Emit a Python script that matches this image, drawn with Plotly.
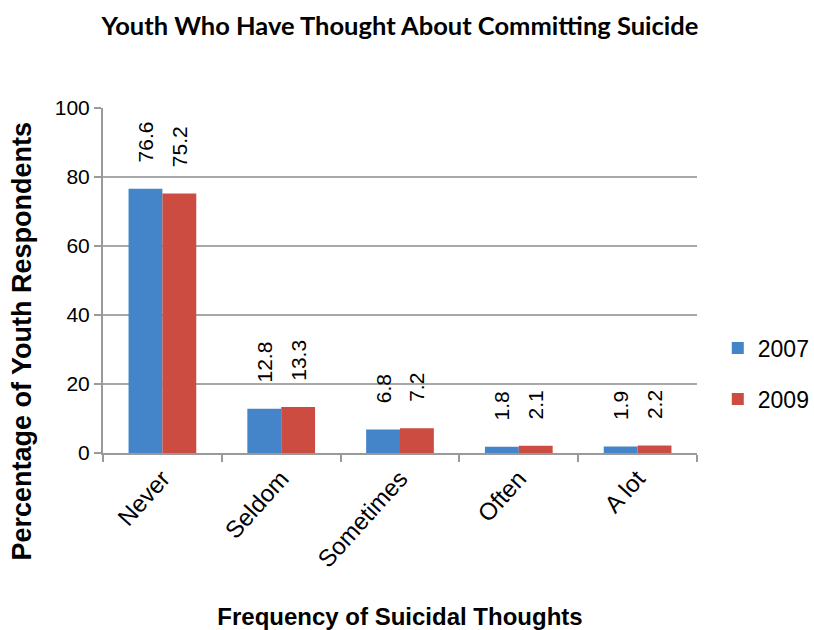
import plotly.graph_objects as go

categories = ["Never", "Seldom", "Sometimes", "Often", "A lot"]
years = ["2007", "2009"]
values_2007 = [76.6, 12.8, 6.8, 1.8, 1.9]
values_2009 = [75.2, 13.3, 7.2, 2.1, 2.2]
y_ticks = [0, 20, 40, 60, 80, 100]

colors = {"2007": "#4484c8", "2009": "#cc4c42"}
series = {"2007": values_2007, "2009": values_2009}

fig = go.Figure()
for yr in years:
    fig.add_trace(go.Bar(
        x=categories,
        y=series[yr],
        name=yr,
        legendgroup=yr,
        marker=dict(color=colors[yr], line=dict(width=0)),
        texttemplate="\u00a0\u00a0\u00a0\u00a0%{y}",
        textposition="outside",
        textangle=-90,
        constraintext="none",
        textfont=dict(family="Liberation Sans, Arial", size=21, color="black"),
        cliponaxis=False,
    ))

# y-axis title drawn as a rotated annotation so it can sit below centre
fig.add_annotation(
    text="<b>Percentage of Youth Respondents</b>",
    xref="paper", yref="paper", x=-0.137, y=0.325,
    xanchor="center", yanchor="middle", textangle=-90, showarrow=False,
    font=dict(family="Liberation Sans, Arial", size=27, color="black"),
)

fig.update_layout(
    width=814, height=630,
    paper_bgcolor="white", plot_bgcolor="white",
    margin=dict(l=103, r=117, t=108, b=177, autoexpand=False),
    barmode="group", bargap=0.43, bargroupgap=0,
    title=dict(
        text="<b>Youth Who Have Thought About Committing Suicide</b>",
        x=0.5, xref="paper", y=0.958, yanchor="middle",
        font=dict(family="Lato", size=25.5, color="black"),
    ),
    font=dict(family="Liberation Sans, Arial", size=21, color="black"),
    showlegend=True,
    legend=dict(
        x=1.035, y=0.23, xanchor="left", yanchor="middle",
        font=dict(size=23), traceorder="grouped", tracegroupgap=18,
        itemwidth=30, bgcolor="rgba(0,0,0,0)",
    ),
    xaxis=dict(
        title=dict(text="<b>Frequency of Suicidal Thoughts</b>", standoff=40,
                   font=dict(size=24)),
        tickangle=-48, ticks="outside", tickson="boundaries",
        ticklen=7, tickwidth=2, tickcolor="#9a9a9a",
        showline=True, linecolor="#9a9a9a", linewidth=2,
        tickfont=dict(size=24),
    ),
    yaxis=dict(
        range=[0, 100], tickvals=y_ticks, ticks="outside",
        ticklen=7, tickwidth=2, tickcolor="#9a9a9a",
        showline=True, linecolor="#9a9a9a", linewidth=2,
        showgrid=True, gridcolor="#a8a8a8", gridwidth=2,
        zeroline=False, tickfont=dict(size=21),
    ),
)

fig.write_html("out.html")
